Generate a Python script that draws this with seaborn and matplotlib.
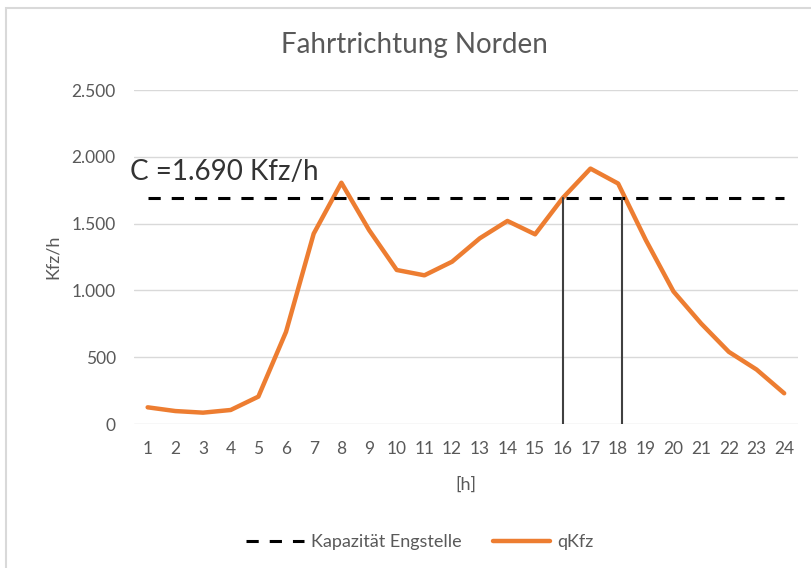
import numpy as np
import pandas as pd
import matplotlib
matplotlib.use("Agg")
import matplotlib.pyplot as plt
import seaborn as sns
from matplotlib.patches import Rectangle
from matplotlib.lines import Line2D

# Daten: Stundenwerte Fahrtrichtung Norden
hours = list(range(1, 25))
q_kfz = [125, 97, 85, 105, 205, 690, 1425, 1806, 1452, 1153, 1113, 1215,
         1390, 1520, 1420, 1692, 1912, 1800, 1377, 992, 752, 540, 408, 230]
capacity = 1690
cross_hours = [16.0, 18.15]   # Schnittpunkte Ganglinie / Kapazität
y_ticks = [0, 500, 1000, 1500, 2000, 2500]
y_tick_labels = ["0", "500", "1.000", "1.500", "2.000", "2.500"]

sns.set_theme(style="white")
plt.rcParams['font.family'] = ['Lato', 'DejaVu Sans']

df = pd.DataFrame({"h": hours, "qKfz": q_kfz, "Kapazität Engstelle": [capacity] * len(hours)})

fig = plt.figure(figsize=(8.11, 5.68), dpi=100)
ax = fig.add_axes([0.165, 0.2535, 0.819, 0.588])

# outer chart border (like the Excel chart frame)
fig.patches.append(Rectangle((6 / 811, -0.1), 1.2, 1 - 8 / 568 + 0.1, transform=fig.transFigure,
                             fill=False, edgecolor="#d9d9d9", linewidth=1.5))

gray = "#595959"
dash = (0, (4, 3.6))
for yt in y_ticks:
    ax.axhline(yt, color="#d9d9d9", linewidth=1, zorder=0)

sns.lineplot(data=df, x="h", y="Kapazität Engstelle", ax=ax, color="black",
             linewidth=2.2, linestyle=dash, zorder=3)
sns.lineplot(data=df, x="h", y="qKfz", ax=ax, color="#ED7D31", linewidth=3.2, zorder=2)

for ch in cross_hours:
    ax.plot([ch, ch], [0, capacity], color="#404040", linewidth=1.5, zorder=4)

ax.text(0.36, 1886, "C =1.690 Kfz/h", fontsize=20, color="#333333", va="center", ha="left")

ax.set_xlim(0.5, 24.5)
ax.set_ylim(0, 2500)
ax.set_xticks(hours)
ax.set_xticklabels([str(h) for h in hours])
ax.set_yticks(y_ticks)
ax.set_yticklabels(y_tick_labels)
ax.tick_params(axis="both", length=0, labelsize=12.5, labelcolor=gray)
ax.tick_params(axis="x", pad=12)
ax.tick_params(axis="y", pad=13)
for s in ax.spines.values():
    s.set_visible(False)

ax.set_xlabel("[h]", fontsize=13, color=gray, labelpad=14)
ax.set_ylabel("Kfz/h", fontsize=13, color=gray, labelpad=8)
fig.text(414.5 / 811, 1 - 45 / 568, "Fahrtrichtung Norden", fontsize=20, color=gray,
         ha="center", va="center")

handles = [Line2D([], [], color="black", linewidth=2.2, linestyle=dash),
           Line2D([], [], color="#ED7D31", linewidth=3.2)]
leg = fig.legend(handles, ["Kapazität Engstelle", "qKfz"], loc="center",
                 bbox_to_anchor=(420 / 811, 1 - 542 / 568), ncol=2, frameon=False,
                 fontsize=13, handlelength=3.2, columnspacing=1.7, handletextpad=0.4)
for t in leg.get_texts():
    t.set_color(gray)

fig.savefig("out.png", dpi=100)
